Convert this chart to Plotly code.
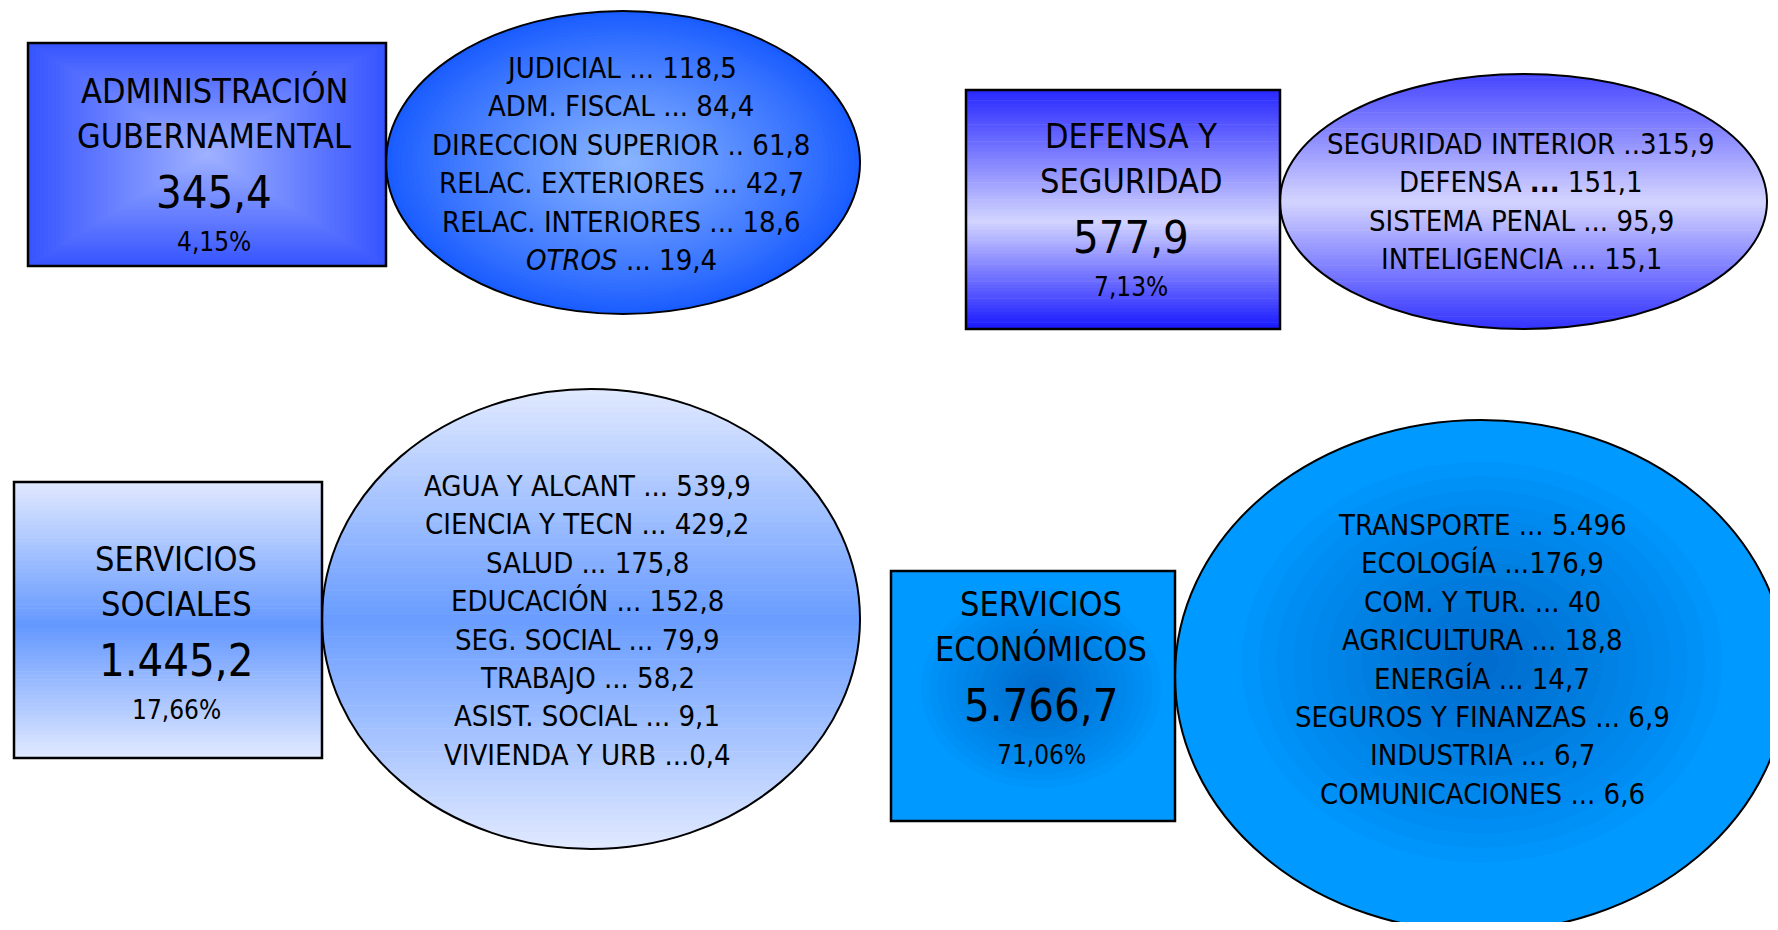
import numpy as np
import plotly.graph_objects as go

W, H = 1778, 930
OFF = 8  # page body margin

# ---------------- data ----------------
group_titles = [["ADMINISTRACIÓN", "GUBERNAMENTAL"], ["DEFENSA Y", "SEGURIDAD"],
                ["SERVICIOS", "SOCIALES"], ["SERVICIOS", "ECONÓMICOS"]]
group_totals = ["345,4", "577,9", "1.445,2", "5.766,7"]
group_shares = ["4,15%", "7,13%", "17,66%", "71,06%"]

admin_items = ["JUDICIAL ... 118,5", "ADM. FISCAL ... 84,4", "DIRECCION SUPERIOR .. 61,8",
               "RELAC. EXTERIORES ... 42,7", "RELAC. INTERIORES ... 18,6", "<i>OTROS</i> ... 19,4"]
defensa_items = ["SEGURIDAD INTERIOR ..315,9", "DEFENSA <b>...</b> 151,1",
                 "SISTEMA PENAL ... 95,9", "INTELIGENCIA ... 15,1"]
sociales_items = ["AGUA Y ALCANT ... 539,9", "CIENCIA Y TECN ... 429,2", "SALUD ... 175,8",
                  "EDUCACIÓN ... 152,8", "SEG. SOCIAL ... 79,9", "TRABAJO ... 58,2",
                  "ASIST. SOCIAL ... 9,1", "VIVIENDA Y URB ...0,4"]
economicos_items = ["TRANSPORTE ... 5.496", "ECOLOGÍA ...176,9", "COM. Y TUR. ... 40",
                    "AGRICULTURA ... 18,8", "ENERGÍA ... 14,7", "SEGUROS Y FINANZAS ... 6,9",
                    "INDUSTRIA ... 6,7", "COMUNICACIONES ... 6,6"]
group_items = [admin_items, defensa_items, sociales_items, economicos_items]

# ---------------- layout / style ----------------
FONT = "Liberation Sans Narrow, DejaVu Sans Condensed, sans-serif"
panels = [
    dict(box=(28, 43, 386, 266), tx=214, ty=91, ell=(386, 11, 860, 314), ix=621, iy=68,
         style="radial",
         box_edge=(55, 85, 255), box_center=(160, 178, 255),
         ell_edge=(25, 92, 255), ell_center=(140, 182, 255)),
    dict(box=(966, 90, 1280, 329), tx=1131, ty=136, ell=(1280, 74, 1767, 329), ix=1521, iy=144,
         style="vertical",
         box_stops=[(0, (40, 40, 255)), (0.55, (210, 212, 255)), (1, (24, 24, 255))],
         ell_stops=[(0, (70, 70, 255)), (0.5, (212, 212, 255)), (1, (50, 50, 255))]),
    dict(box=(14, 482, 322, 758), tx=176, ty=559, ell=(322, 389, 860, 849), ix=587, iy=486,
         style="vertical",
         box_stops=[(0, (225, 233, 255)), (0.52, (100, 152, 255)), (1, (225, 233, 255))],
         ell_stops=[(0, (225, 233, 255)), (0.5, (104, 156, 255)), (1, (225, 233, 255))]),
    dict(box=(891, 571, 1175, 821), tx=1041, ty=604, ell=(1175, 420, 1787, 932), ix=1482, iy=525,
         style="flat", base=(0, 153, 255),
         box_shade=(1041, 688, 120, 100), ell_shade=(1482, 662, 240, 200)),
]
LINE_GAP = 38.4
TITLE_OFFSETS = [0, 45, 101, 151]
TITLE_SIZES = [34, 34, 45, 26]
ITEM_SIZE = 29


def rgb(c, a=None):
    if a is None:
        return "rgb(%d,%d,%d)" % tuple(int(round(v)) for v in c)
    return "rgba(%d,%d,%d,%.3f)" % (*(int(round(v)) for v in c), a)


def mix(c1, c2, t):
    return tuple(a + (b - a) * t for a, b in zip(c1, c2))


def stop_color(stops, t):
    for (t0, c0), (t1, c1) in zip(stops[:-1], stops[1:]):
        if t0 <= t <= t1:
            return mix(c0, c1, (t - t0) / (t1 - t0))
    return stops[-1][1]


shapes = []


def rect_path_gradient(b, edge, center, n=45):
    x0, y0, x1, y1 = b
    cx, cy = (x0 + x1) / 2, (y0 + y1) / 2
    for i in range(n):
        f = i / n
        shapes.append(dict(type="rect", xref="x", yref="y",
                           x0=x0 + f * (cx - x0), x1=x1 - f * (x1 - cx),
                           y0=y0 + f * (cy - y0), y1=y1 - f * (y1 - cy),
                           fillcolor=rgb(mix(edge, center, f)), line=dict(width=0), layer="below"))


def ellipse_radial_gradient(b, edge, center, n=45):
    x0, y0, x1, y1 = b
    cx, cy = (x0 + x1) / 2, (y0 + y1) / 2
    for i in range(n):
        f = i / n
        s = 1 - f
        shapes.append(dict(type="circle", xref="x", yref="y",
                           x0=cx - s * (cx - x0), x1=cx + s * (x1 - cx),
                           y0=cy - s * (cy - y0), y1=cy + s * (y1 - cy),
                           fillcolor=rgb(mix(edge, center, f ** 0.9)), line=dict(width=0), layer="below"))


def rect_vertical_gradient(b, stops, n=70):
    x0, y0, x1, y1 = b
    hh = (y1 - y0) / n
    for i in range(n):
        t = (i + 0.5) / n
        shapes.append(dict(type="rect", xref="x", yref="y", x0=x0, x1=x1,
                           y0=y0 + i * hh, y1=min(y1, y0 + (i + 1) * hh + 0.6),
                           fillcolor=rgb(stop_color(stops, t)), line=dict(width=0), layer="below"))


def ellipse_vertical_gradient(b, stops, n=80):
    x0, y0, x1, y1 = b
    cx, cy = (x0 + x1) / 2, (y0 + y1) / 2
    a, bb = (x1 - x0) / 2, (y1 - y0) / 2
    hh = (y1 - y0) / n
    for i in range(n):
        ya, yb = y0 + i * hh, min(y1, y0 + (i + 1) * hh + 0.6)
        ys = np.linspace(ya, yb, 6)
        xr = cx + a * np.sqrt(np.clip(1 - ((ys - cy) / bb) ** 2, 0, 1))
        xl = cx - a * np.sqrt(np.clip(1 - ((ys - cy) / bb) ** 2, 0, 1))
        pts = list(zip(xl, ys)) + list(zip(xr[::-1], ys[::-1]))
        path = "M " + " L ".join("%.2f,%.2f" % p for p in pts) + " Z"
        t = (i + 0.5) / n
        shapes.append(dict(type="path", xref="x", yref="y", path=path,
                           fillcolor=rgb(stop_color(stops, t)), line=dict(width=0), layer="below"))


def soft_shade(cxy, n=14, color=(0, 55, 150), alpha=0.035):
    cx, cy, ax, ay = cxy
    for i in range(n):
        s = 1 - i / n
        shapes.append(dict(type="circle", xref="x", yref="y",
                           x0=cx - s * ax, x1=cx + s * ax, y0=cy - s * ay, y1=cy + s * ay,
                           fillcolor=rgb(color, alpha), line=dict(width=0), layer="below"))


for p in panels:
    if p["style"] == "radial":
        rect_path_gradient(p["box"], p["box_edge"], p["box_center"])
        ellipse_radial_gradient(p["ell"], p["ell_edge"], p["ell_center"])
    elif p["style"] == "vertical":
        rect_vertical_gradient(p["box"], p["box_stops"])
        ellipse_vertical_gradient(p["ell"], p["ell_stops"])
    else:
        x0, y0, x1, y1 = p["box"]
        shapes.append(dict(type="rect", xref="x", yref="y", x0=x0, y0=y0, x1=x1, y1=y1,
                           fillcolor=rgb(p["base"]), line=dict(width=0), layer="below"))
        soft_shade(p["box_shade"])
        x0, y0, x1, y1 = p["ell"]
        shapes.append(dict(type="circle", xref="x", yref="y", x0=x0, y0=y0, x1=x1, y1=y1,
                           fillcolor=rgb(p["base"]), line=dict(width=0), layer="below"))
        soft_shade(p["ell_shade"])
    # outlines
    x0, y0, x1, y1 = p["ell"]
    shapes.append(dict(type="circle", xref="x", yref="y", x0=x0, y0=y0, x1=x1, y1=y1,
                       fillcolor="rgba(0,0,0,0)", line=dict(color="black", width=2), layer="below"))
    x0, y0, x1, y1 = p["box"]
    shapes.append(dict(type="rect", xref="x", yref="y", x0=x0, y0=y0, x1=x1, y1=y1,
                       fillcolor="rgba(0,0,0,0)", line=dict(color="black", width=2.5), layer="below"))

annotations = []
for p, title, total, share, items in zip(panels, group_titles, group_totals, group_shares, group_items):
    texts = [title[0], title[1], total, share]
    for txt, off, size in zip(texts, TITLE_OFFSETS, TITLE_SIZES):
        annotations.append(dict(x=p["tx"], y=p["ty"] + off, xref="x", yref="y", text=txt,
                                showarrow=False, xanchor="center", yanchor="middle",
                                font=dict(family=FONT, size=size, color="black")))
    for k, txt in enumerate(items):
        annotations.append(dict(x=p["ix"], y=p["iy"] + k * LINE_GAP, xref="x", yref="y", text=txt,
                                showarrow=False, xanchor="center", yanchor="middle",
                                font=dict(family=FONT, size=ITEM_SIZE, color="black")))

# figure sized so it fits inside the page body margins without scrollbars
FW, FH = W - OFF, H - 2 * OFF
fig = go.Figure()
fig.update_layout(
    width=FW, height=FH, margin=dict(l=0, r=0, t=0, b=0),
    paper_bgcolor="white", plot_bgcolor="white",
    xaxis=dict(range=[OFF, OFF + FW], visible=False, fixedrange=True),
    yaxis=dict(range=[OFF + FH, OFF], visible=False, fixedrange=True),
    shapes=shapes, annotations=annotations, showlegend=False,
)
fig.write_html("out.html")
